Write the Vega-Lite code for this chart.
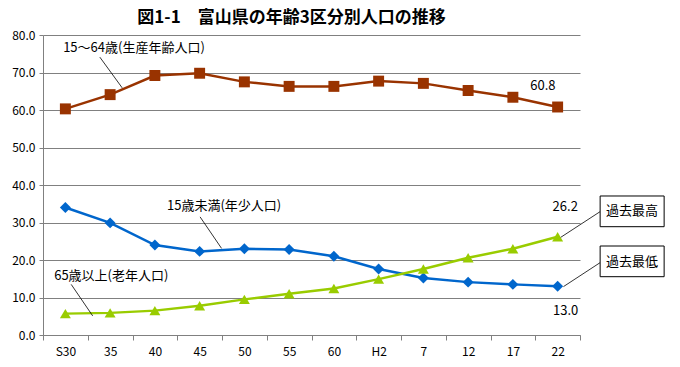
{
  "$schema": "https://vega.github.io/schema/vega-lite/v6.json",
  "width": 537,
  "height": 300,
  "autosize": {"type": "none"},
  "padding": {"left": 43, "top": 35, "right": 100, "bottom": 32},
  "background": "white",
  "title": {"text": "図1-1　富山県の年齢3区分別人口の推移", "fontSize": 17, "fontWeight": "bold", "font": "Noto Sans CJK JP", "color": "black", "anchor": "middle", "dx": -20, "offset": 2},
  "config": {"view": {"stroke": null}, "font": "Noto Sans CJK JP"},
  "datasets": {
    "pop": [
      {"year": "S30", "group": "15～64歳", "value": 60.3},
      {"year": "35", "group": "15～64歳", "value": 64.1},
      {"year": "40", "group": "15～64歳", "value": 69.2},
      {"year": "45", "group": "15～64歳", "value": 69.8},
      {"year": "50", "group": "15～64歳", "value": 67.5},
      {"year": "55", "group": "15～64歳", "value": 66.3},
      {"year": "60", "group": "15～64歳", "value": 66.3},
      {"year": "H2", "group": "15～64歳", "value": 67.7},
      {"year": "7", "group": "15～64歳", "value": 67.1},
      {"year": "12", "group": "15～64歳", "value": 65.2},
      {"year": "17", "group": "15～64歳", "value": 63.4},
      {"year": "22", "group": "15～64歳", "value": 60.8},
      {"year": "S30", "group": "15歳未満", "value": 34.0},
      {"year": "35", "group": "15歳未満", "value": 29.9},
      {"year": "40", "group": "15歳未満", "value": 24.0},
      {"year": "45", "group": "15歳未満", "value": 22.3},
      {"year": "50", "group": "15歳未満", "value": 23.0},
      {"year": "55", "group": "15歳未満", "value": 22.8},
      {"year": "60", "group": "15歳未満", "value": 21.0},
      {"year": "H2", "group": "15歳未満", "value": 17.6},
      {"year": "7", "group": "15歳未満", "value": 15.2},
      {"year": "12", "group": "15歳未満", "value": 14.1},
      {"year": "17", "group": "15歳未満", "value": 13.5},
      {"year": "22", "group": "15歳未満", "value": 13.0},
      {"year": "S30", "group": "65歳以上", "value": 5.7},
      {"year": "35", "group": "65歳以上", "value": 5.9},
      {"year": "40", "group": "65歳以上", "value": 6.5},
      {"year": "45", "group": "65歳以上", "value": 7.8},
      {"year": "50", "group": "65歳以上", "value": 9.5},
      {"year": "55", "group": "65歳以上", "value": 11.0},
      {"year": "60", "group": "65歳以上", "value": 12.4},
      {"year": "H2", "group": "65歳以上", "value": 14.9},
      {"year": "7", "group": "65歳以上", "value": 17.6},
      {"year": "12", "group": "65歳以上", "value": 20.6},
      {"year": "17", "group": "65歳以上", "value": 23.0},
      {"year": "22", "group": "65歳以上", "value": 26.2}
    ],
    "leftLabels": [
      {"label": "15～64歳(生産年齢人口)", "pos": -0.05, "value": 76.5},
      {"label": "15歳未満(年少人口)", "pos": 2.27, "value": 34.4},
      {"label": "65歳以上(老年人口)", "pos": -0.25, "value": 15.8}
    ],
    "centerLabels": [
      {"label": "60.8", "pos": 10.67, "value": 66.5},
      {"label": "26.2", "pos": 11.17, "value": 34.1},
      {"label": "13.0", "pos": 11.18, "value": 6.5},
      {"label": "過去最高", "pos": 12.66, "value": 33.0},
      {"label": "過去最低", "pos": 12.66, "value": 19.6}
    ],
    "leaders": [
      {"pos": 0.77, "value": 74.1, "pos2": 1.27, "value2": 65.9},
      {"pos": 3.01, "value": 31.5, "pos2": 3.49, "value2": 23.1},
      {"pos": 0.13, "value": 13.5, "pos2": 0.61, "value2": 5.1},
      {"pos": 11.07, "value": 26.05, "pos2": 11.95, "value2": 32.9},
      {"pos": 11.13, "value": 12.9, "pos2": 11.95, "value2": 19.3}
    ],
    "boxes": [
      {"pos": 11.95, "pos2": 13.38, "value": 37.07, "value2": 28.88},
      {"pos": 11.95, "pos2": 13.38, "value": 23.73, "value2": 15.55}
    ]
  },
  "encoding": {
    "y": {
      "field": "value", "type": "quantitative",
      "scale": {"domain": [0, 80], "nice": false},
      "axis": {"title": null, "values": [0, 10, 20, 30, 40, 50, 60, 70, 80], "labelOverlap": false, "format": ".1f", "grid": true, "gridColor": "#808080", "domainColor": "#808080", "tickColor": "#808080", "tickSize": 4, "labelFontSize": 12, "labelColor": "black", "labelPadding": 4, "labelFont": "Noto Sans CJK JP"}
    }
  },
  "layer": [
    {
      "data": {"name": "pop"},
      "encoding": {
        "x": {
          "field": "year", "type": "ordinal",
          "sort": ["S30", "35", "40", "45", "50", "55", "60", "H2", "7", "12", "17", "22"],
          "scale": {"type": "band", "paddingInner": 0, "paddingOuter": 0},
          "bandPosition": 0.5,
          "axis": {"title": null, "labelAngle": 0, "tickBand": "extent", "grid": false, "domainColor": "#808080", "tickColor": "#808080", "tickSize": 5, "labelFontSize": 12, "labelColor": "black", "labelPadding": 6, "labelFont": "Noto Sans CJK JP"}
        },
        "color": {
          "field": "group", "type": "nominal",
          "scale": {"domain": ["15～64歳", "15歳未満", "65歳以上"], "range": ["#993300", "#0066CC", "#99CC00"]},
          "legend": null
        }
      },
      "layer": [
        {"mark": {"type": "line", "strokeWidth": 2.5}},
        {
          "mark": {"type": "point", "filled": true, "opacity": 1, "size": 120},
          "encoding": {
            "shape": {"field": "group", "type": "nominal", "scale": {"domain": ["15～64歳", "15歳未満", "65歳以上"], "range": ["square", "diamond", "triangle-up"]}, "legend": null}
          }
        }
      ]
    },
    {
      "encoding": {
        "x": {"field": "pos", "type": "quantitative", "scale": {"domain": [-0.5, 11.5], "nice": false, "zero": false}, "axis": null}
      },
      "layer": [
        {
          "data": {"name": "leaders"},
          "mark": {"type": "rule", "color": "black", "strokeWidth": 0.8},
          "encoding": {
            "x2": {"field": "pos2"},
            "y2": {"field": "value2"}
          }
        },
        {
          "data": {"name": "boxes"},
          "mark": {"type": "rect", "fill": "white", "stroke": "black", "strokeWidth": 1},
          "encoding": {
            "x2": {"field": "pos2"},
            "y2": {"field": "value2"}
          }
        },
        {
          "data": {"name": "leftLabels"},
          "mark": {"type": "text", "align": "left", "baseline": "middle", "fontSize": 13, "color": "black", "font": "Noto Sans CJK JP"},
          "encoding": {"text": {"field": "label"}}
        },
        {
          "data": {"name": "centerLabels"},
          "mark": {"type": "text", "align": "center", "baseline": "middle", "fontSize": 13, "color": "black", "font": "Noto Sans CJK JP"},
          "encoding": {"text": {"field": "label"}}
        }
      ]
    }
  ],
  "resolve": {"scale": {"x": "independent"}}
}
